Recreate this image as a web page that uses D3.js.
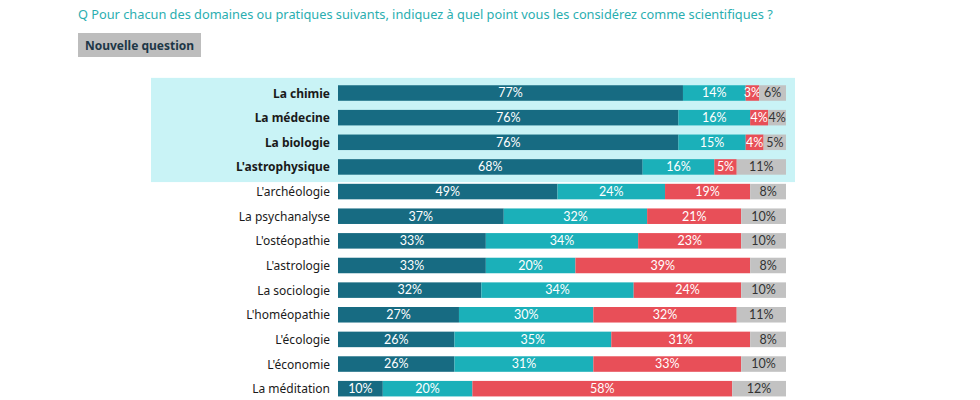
<!DOCTYPE html>
<html><head><meta charset="utf-8">
<script src="https://cdn.jsdelivr.net/npm/d3@7"></script>
<style>body{margin:0;background:#fff}svg{display:block}</style>
</head><body>
<svg id="c" width="980" height="400"></svg>
<script>
const categories = ["La chimie","La médecine","La biologie","L'astrophysique","L'archéologie","La psychanalyse","L'ostéopathie","L'astrologie","La sociologie","L'homéopathie","L'écologie","L'économie","La méditation"];
const highlighted = ["La chimie","La médecine","La biologie","L'astrophysique"];
const tresScient = [77,76,76,68,49,37,33,33,32,27,26,26,10];
const plutotScient = [14,16,15,16,24,32,34,20,34,30,35,31,20];
const pasScient = [3,4,4,5,19,21,23,39,24,32,31,33,58];
const nsp = [6,4,5,11,8,10,10,8,10,11,8,10,12];
const seriesKeys = ["a","b","c","d"];
const colors = ["#176b82","#1bb0b9","#e84f58","#c2c2c2"];
const textColors = ["#fff","#fff","#fff","#333"];

const data = categories.map((c,i)=>({cat:c,a:tresScient[i],b:plutotScient[i],c:pasScient[i],d:nsp[i]}));
const svg = d3.select("#c");
const font = "'Noto Sans', 'Open Sans', sans-serif";
const lfont = "Lato, 'Noto Sans', sans-serif";

const title = svg.append("text").attr("x",78).attr("y",19).attr("fill","#2aaeb0")
  .attr("font-family",font).attr("font-size",14)
  .text("Q Pour chacun des domaines ou pratiques suivants, indiquez à quel point vous les considérez comme scientifiques ?");
const tw = title.node().getComputedTextLength();
title.attr("font-size",14*695/tw);

svg.append("rect").attr("x",78).attr("y",33).attr("width",123).attr("height",24).attr("fill","#bdbdbd");
svg.append("text").attr("x",139.5).attr("y",49.5).attr("text-anchor","middle").attr("fill","#1d3747")
  .attr("font-family",font).attr("font-weight","bold").attr("font-size",12).text("Nouvelle question");

const x = d3.scaleLinear().domain([0,100]).range([338,786]);
const y = d3.scaleBand().domain(categories).range([80.7,401]).paddingInner(0.37).paddingOuter(0.185);

const firstH = highlighted[0], lastH = highlighted[highlighted.length-1];
svg.append("rect").attr("x",151).attr("width",644)
  .attr("y",y(firstH)-y.step()*0.3).attr("height",y(lastH)+y.bandwidth()+y.step()*0.3-(y(firstH)-y.step()*0.3))
  .attr("fill","#c9f3f6");

const stack = d3.stack().keys(seriesKeys)(data);
const g = svg.append("g");
stack.forEach((s,si)=>{
  const gg = g.append("g");
  gg.selectAll("rect").data(s).join("rect")
    .attr("x",d=>x(d[0])).attr("width",d=>x(d[1])-x(d[0]))
    .attr("y",d=>y(d.data.cat)).attr("height",y.bandwidth()).attr("fill",colors[si]);
  gg.selectAll("text").data(s).join("text")
    .attr("x",d=>(x(d[0])+x(d[1]))/2).attr("y",d=>y(d.data.cat)+y.bandwidth()/2+4.3)
    .attr("text-anchor","middle").attr("fill",textColors[si])
    .attr("font-family",lfont).attr("font-size",12.5)
    .text(d=>(d[1]-d[0])+"%");
});

svg.append("g").selectAll("text").data(categories).join("text")
  .attr("x",330).attr("y",d=>y(d)+y.bandwidth()/2+4.5).attr("text-anchor","end")
  .attr("fill","#1a1a1a").attr("font-family",font).attr("font-size",12)
  .attr("font-weight",d=>highlighted.includes(d)?"bold":"normal").text(d=>d);
</script>
</body></html>
